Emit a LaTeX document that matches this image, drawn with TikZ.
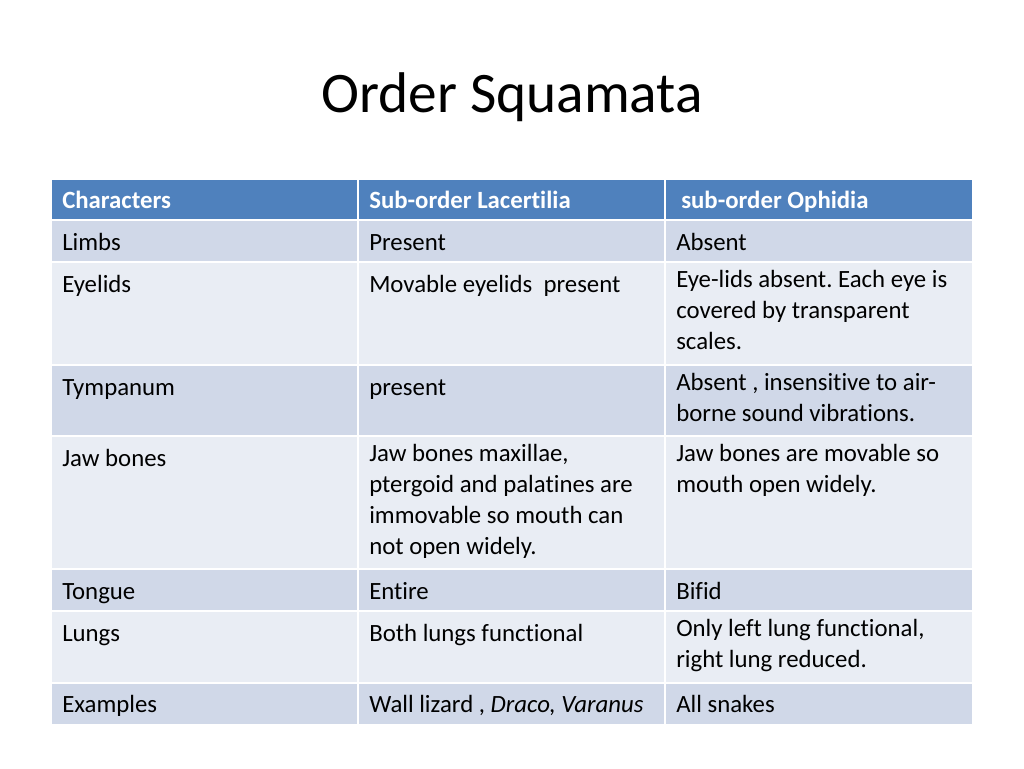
\documentclass[tikz,border=0pt]{standalone}
\usepackage{fontspec}
\setmainfont{Carlito}[Ligatures={NoCommon}]
\frenchspacing
\definecolor{hdr}{HTML}{4F81BD}
\definecolor{dk}{HTML}{D0D8E8}
\definecolor{lt}{HTML}{E9EDF4}
\begin{document}
\begin{tikzpicture}[x=0.75pt,y=-0.75pt,
  cell/.style={inner sep=0pt,anchor=north west,align=left,execute at begin node=\strut,font=\fontsize{18.6}{23.3}\selectfont},
  hcell/.style={cell,text=white,font=\fontsize{18.6}{23.3}\selectfont\bfseries}]
\useasboundingbox (0,0) rectangle (1024,768);
\fill[white] (0,0) rectangle (1024,768);
\node[font=\fontsize{43}{48}\selectfont] (title) at (512,97) {Order Squamata};
\def\rows{180/220/hdr,220/262/dk,262/365/lt,365/436/dk,436/569/lt,569/611/dk,611/683/lt,683/724/dk}
\foreach \a/\b/\c in \rows {\fill[\c] (52,\a) rectangle (972,\b);}
\foreach \y in {220,262,365,436,569,611,683} {\draw[white,line width=1.5pt] (52,\y) -- (972,\y);}
\foreach \x in {358,665} {\draw[white,line width=1.5pt] (\x,180) -- (\x,724);}
\node[hcell] (h1) at (62,186) {Characters};
\node[hcell] (h2) at (369,186) {Sub-order Lacertilia};
\node[hcell] (h3) at (681,186) {sub-order Ophidia};
\node[cell] (a1) at (62,228) {Limbs};
\node[cell] (a2) at (369,228) {Present};
\node[cell] (a3) at (676,228) {Absent};
\node[cell] (b1) at (62,270) {Eyelids};
\node[cell] (b2) at (369,270) {Movable eyelids\ \ present};
\node[cell] (b3) at (676,270) {Eye-lids absent. Each eye is\\covered by transparent\\scales.};
\node[cell] (c1) at (62,373) {Tympanum};
\node[cell] (c2) at (369,373) {present};
\node[cell] (c3) at (676,373) {Absent , insensitive to air-\\borne sound vibrations.};
\node[cell] (d1) at (62,444) {Jaw bones};
\node[cell] (d2) at (369,444) {Jaw bones maxillae,\\ptergoid and palatines are\\immovable so mouth can\\not open widely.};
\node[cell] (d3) at (676,444) {Jaw bones are movable so\\mouth open widely.};
\node[cell] (e1) at (62,577) {Tongue};
\node[cell] (e2) at (369,577) {Entire};
\node[cell] (e3) at (676,577) {Bifid};
\node[cell] (f1) at (62,619) {Lungs};
\node[cell] (f2) at (369,619) {Both lungs functional};
\node[cell] (f3) at (676,619) {Only left lung functional,\\right lung reduced.};
\node[cell] (g1) at (62,690) {Examples};
\node[cell] (g2) at (369,690) {Wall lizard , \textit{Draco, Varanus}};
\node[cell] (g3) at (676,690) {All snakes};
\end{tikzpicture}
\end{document}
